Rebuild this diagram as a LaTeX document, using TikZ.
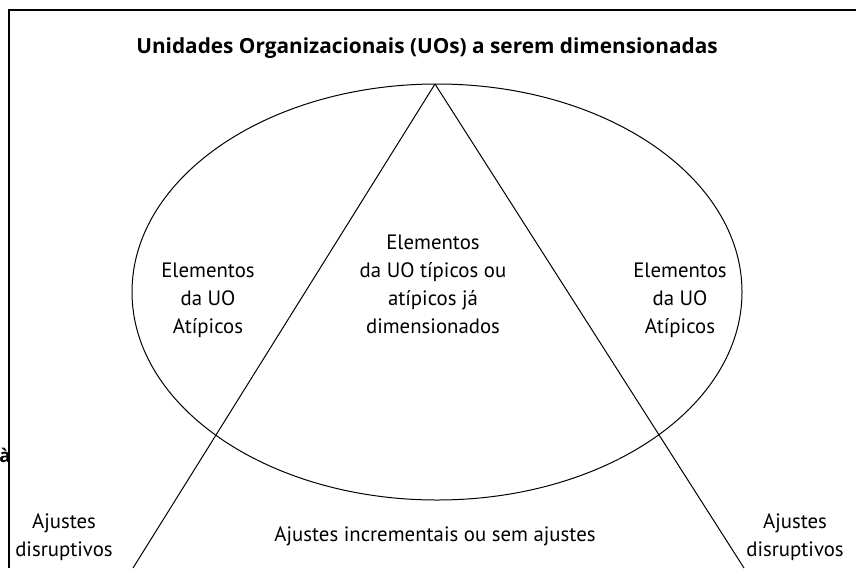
\documentclass[tikz,border=0pt]{standalone}
\usepackage{fontspec}
\setmainfont{PT Sans}
\newfontfamily\titlefont{Open Sans}
\tikzset{every picture/.style={line width=0.75pt}}
\tikzset{lbl/.style={align=center,font=\fontsize{15.6}{21}\selectfont}}

\begin{document}
\begin{tikzpicture}[x=0.75pt,y=0.75pt,yscale=-1,xscale=1]
\useasboundingbox (0,0) rectangle (856,568);

%Straight Lines [id:frame]
\draw [line width=1.5pt]  (8,10) -- (856,10) ;
\draw [line width=1.5pt]  (9,10) -- (9,568) ;
%Shape: Ellipse [id:uo]
\draw  (437,292) ellipse (305 and 208) ;
%Straight Lines [id:left]
\draw  (435,84) -- (133,568) ;
%Straight Lines [id:right]
\draw  (435,84) -- (744,568) ;

% Text Node
\node (titulo) at (427,48) [lbl,font=\titlefont\fontsize{15.6}{21}\selectfont\bfseries] {Unidades Organizacionais (UOs) a serem dimensionadas};
% Text Node
\node (atipE) at (208,300) [lbl] {Elementos\\da UO\\Atípicos};
% Text Node
\node (centro) at (433,284) [lbl] {Elementos\\da UO típicos ou\\atípicos já\\dimensionados};
% Text Node
\node (atipD) at (680,300) [lbl] {Elementos\\da UO\\Atípicos};
% Text Node
\node (incr) at (435,536) [lbl] {Ajustes incrementais ou sem ajustes};
% Text Node
\node (disrE) at (64,537) [lbl] {Ajustes\\disruptivos};
% Text Node
\node (disrD) at (795,537) [lbl] {Ajustes\\disruptivos};
% Text Node
\node (resto) at (5,455) [lbl,font=\titlefont\fontsize{14}{21}\selectfont\bfseries] {à};

\end{tikzpicture}
\end{document}
